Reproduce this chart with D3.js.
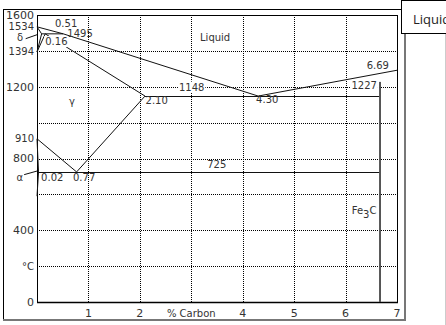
<!DOCTYPE html>
<html lang="en">
<head>
    <meta charset="utf-8" />
    <style>
        body { margin: 0; background: #fff; }
        svg { display: block; }
        text { font-family: "DejaVu Sans", sans-serif; font-size: 10px; fill: #333; }
        .grid { stroke: #000; stroke-width: 1px; stroke-dasharray: 1,1; shape-rendering: crispEdges; }
        .phase { fill: none; stroke: #111; stroke-width: 1px; }
        .flat { shape-rendering: crispEdges; }
        .frame { fill: none; stroke: #000; stroke-width: 1px; shape-rendering: crispEdges; }
    </style>
</head>
<body>
<svg width="446" height="325"></svg>
<script src="https://cdn.jsdelivr.net/npm/d3@7"></script>
<script>

    // axis ticks
    var tempTicks = [1600, 1534, 1394, 1200, 910, 800, 400, 0];
    var tempSymbols = [["δ", 1475], ["α", 693], ["°C", 200]];
    var carbonTicks = [1, 2, 4, 5, 6, 7];
    var carbonTitle = ["% Carbon", 3];
    var gridTemps = [200, 400, 600, 800, 1000, 1200, 1400];
    var gridCarbon = [1, 2, 3, 4, 5, 6];

    // phase boundaries, [carbon %, temperature]
    var liquidus = [[0, 1534], [0.51, 1495], [4.30, 1148], [7, 1292]];
    var deltaLiquidus = [[0, 1534], [0.09, 1495]];
    var peritectic = [[0.09, 1495], [0.51, 1495]];
    var deltaSolvus = [[0.09, 1495], [0, 1394]];
    var deltaGamma = [[0.16, 1495], [0, 1394]];
    var solidus = [[0.16, 1495], [2.10, 1148]];
    var eutectic = [[2.10, 1148], [6.67, 1148]];
    var acm = [[2.10, 1148], [0.77, 725]];
    var a3 = [[0, 910], [0.77, 725]];
    var eutectoid = [[0.03, 725], [6.67, 725]];
    var alphaSolvus = [[0, 910], [0.03, 725], [0, 590]];
    var cementite = [[6.67, 1227], [6.67, 0]];
    var leaders = [
        [[-0.22, 1468], [0.0, 1490]],
        [[-0.25, 710], [0.0, 730]]
    ];

    // annotations: text, carbon, temperature, anchor, white backing
    var notes = [
        ["0.51", 0.35, 1553, "start", false],
        ["1495", 0.59, 1497, "start", false],
        ["0.16", 0.16, 1452, "start", true],
        ["Liquid", 3.17, 1475, "start", false],
        ["γ", 0.68, 1118, "middle", false],
        ["2.10", 2.11, 1124, "start", false],
        ["1148", 2.76, 1198, "start", true],
        ["4.30", 4.26, 1129, "start", false],
        ["6.69", 6.41, 1319, "start", false],
        ["1227", 6.61, 1205, "end", true],
        ["0.02", 0.08, 695, "start", false],
        ["0.77", 0.70, 695, "start", false],
        ["725", 3.31, 767, "start", false]
    ];

    var svg = d3.select("svg");

    var x = d3.scaleLinear().domain([0, 7]).range([37, 397]),
        y = d3.scaleLinear().domain([0, 1600]).range([302, 15]);

    var line = d3.line()
        .x(function(d) { return x(d[0]); })
        .y(function(d) { return y(d[1]); });

    // outer frame
    svg.append("path").attr("class", "frame")
        .attr("d", "M3.5,320 V9.5 H404");
    svg.append("path")
        .attr("d", "M3,320 H405 V33")
        .attr("fill", "none").attr("stroke", "#777").attr("stroke-width", 2);
    svg.append("line")
        .attr("x1", 445.5).attr("x2", 445.5).attr("y1", 33).attr("y2", 325)
        .attr("stroke", "#ccc");

    // grid
    svg.selectAll(".gy").data(gridTemps).enter().append("line")
        .attr("class", "grid")
        .attr("x1", x(0)).attr("x2", x(7))
        .attr("y1", function(d) { return Math.round(y(d)) + 0.5; })
        .attr("y2", function(d) { return Math.round(y(d)) + 0.5; });
    svg.selectAll(".gx").data(gridCarbon).enter().append("line")
        .attr("class", "grid")
        .attr("y1", y(0)).attr("y2", y(1600))
        .attr("x1", function(d) { return Math.round(x(d)) + 0.5; })
        .attr("x2", function(d) { return Math.round(x(d)) + 0.5; });

    // plot box
    svg.append("rect").attr("class", "frame")
        .attr("x", x(0) + 0.5).attr("y", y(1600) + 0.5)
        .attr("width", x(7) - x(0)).attr("height", y(0) - y(1600));
    svg.append("line")
        .attr("x1", x(0)).attr("x2", x(7) + 1)
        .attr("y1", y(0) + 0.5).attr("y2", y(0) + 0.5)
        .attr("stroke", "#000").attr("stroke-width", 1.5);

    // phase lines
    var phases = [liquidus, deltaLiquidus, peritectic, deltaSolvus, deltaGamma,
        solidus, acm, a3, alphaSolvus];
    svg.selectAll(".phase").data(phases).enter().append("path")
        .attr("class", "phase")
        .attr("d", line);
    svg.selectAll(".flat").data([eutectic, eutectoid]).enter().append("path")
        .attr("class", "phase flat")
        .attr("transform", "translate(0,0.5)")
        .attr("d", line);
    svg.append("path").datum(cementite)
        .attr("fill", "none").attr("stroke", "#555").attr("stroke-width", 2)
        .attr("d", line);
    svg.selectAll(".leader").data(leaders).enter().append("path")
        .attr("class", "phase")
        .attr("stroke-width", 0.8)
        .attr("d", line);

    // annotations
    var g = svg.selectAll(".note").data(notes).enter().append("g")
        .attr("class", "note")
        .attr("transform", function(d) { return "translate(" + x(d[1]) + "," + y(d[2]) + ")"; });
    g.append("text")
        .attr("text-anchor", function(d) { return d[3]; })
        .attr("dy", "0.35em")
        .text(function(d) { return d[0]; });
    g.each(function(d) {
        if (!d[4]) return;
        var t = d3.select(this).select("text"), b = t.node().getBBox();
        d3.select(this).insert("rect", "text")
            .attr("x", b.x - 1).attr("y", b.y).attr("width", b.width + 2).attr("height", b.height)
            .attr("fill", "#fff");
    });

    // Fe3C with subscript
    var fe = svg.append("text")
        .attr("x", x(6.12)).attr("y", y(511)).attr("dy", "0.35em");
    fe.append("tspan").text("Fe");
    fe.append("tspan").attr("dy", 4).text("3");
    fe.append("tspan").attr("dy", -4).text("C");

    // temperature axis labels
    svg.selectAll(".tl").data(tempTicks).enter().append("text")
        .attr("text-anchor", "end")
        .attr("x", 34).attr("y", function(d) { return y(d); })
        .attr("dy", "0.35em")
        .style("font-size", function(d) { return d % 200 === 0 ? "11px" : "10px"; })
        .text(function(d) { return d; });
    svg.selectAll(".ts").data(tempSymbols).enter().append("text")
        .attr("text-anchor", "end")
        .attr("x", function(d) { return d[0] === "°C" ? 34 : 23; })
        .attr("y", function(d) { return y(d[1]); })
        .attr("dy", "0.35em")
        .text(function(d) { return d[0]; });

    // carbon axis labels
    svg.selectAll(".cl").data(carbonTicks).enter().append("text")
        .attr("text-anchor", "middle")
        .attr("x", function(d) { return x(d); }).attr("y", 313)
        .attr("dy", "0.35em")
        .style("font-size", "11px")
        .text(function(d) { return d; });
    svg.append("text")
        .attr("text-anchor", "middle")
        .attr("x", x(carbonTitle[1])).attr("y", 313).attr("dy", "0.35em")
        .text(carbonTitle[0]);

    // clipped tooltip box at top right
    svg.append("rect")
        .attr("x", 401.5).attr("y", 0.5).attr("width", 50).attr("height", 33)
        .attr("fill", "#fff").attr("stroke", "#000");
    svg.append("text")
        .attr("x", 413).attr("y", 24)
        .style("font-family", "'Open Sans', sans-serif").style("font-size", "13px").style("fill", "#222")
        .text("Liquid");

</script>
</body>
</html>
